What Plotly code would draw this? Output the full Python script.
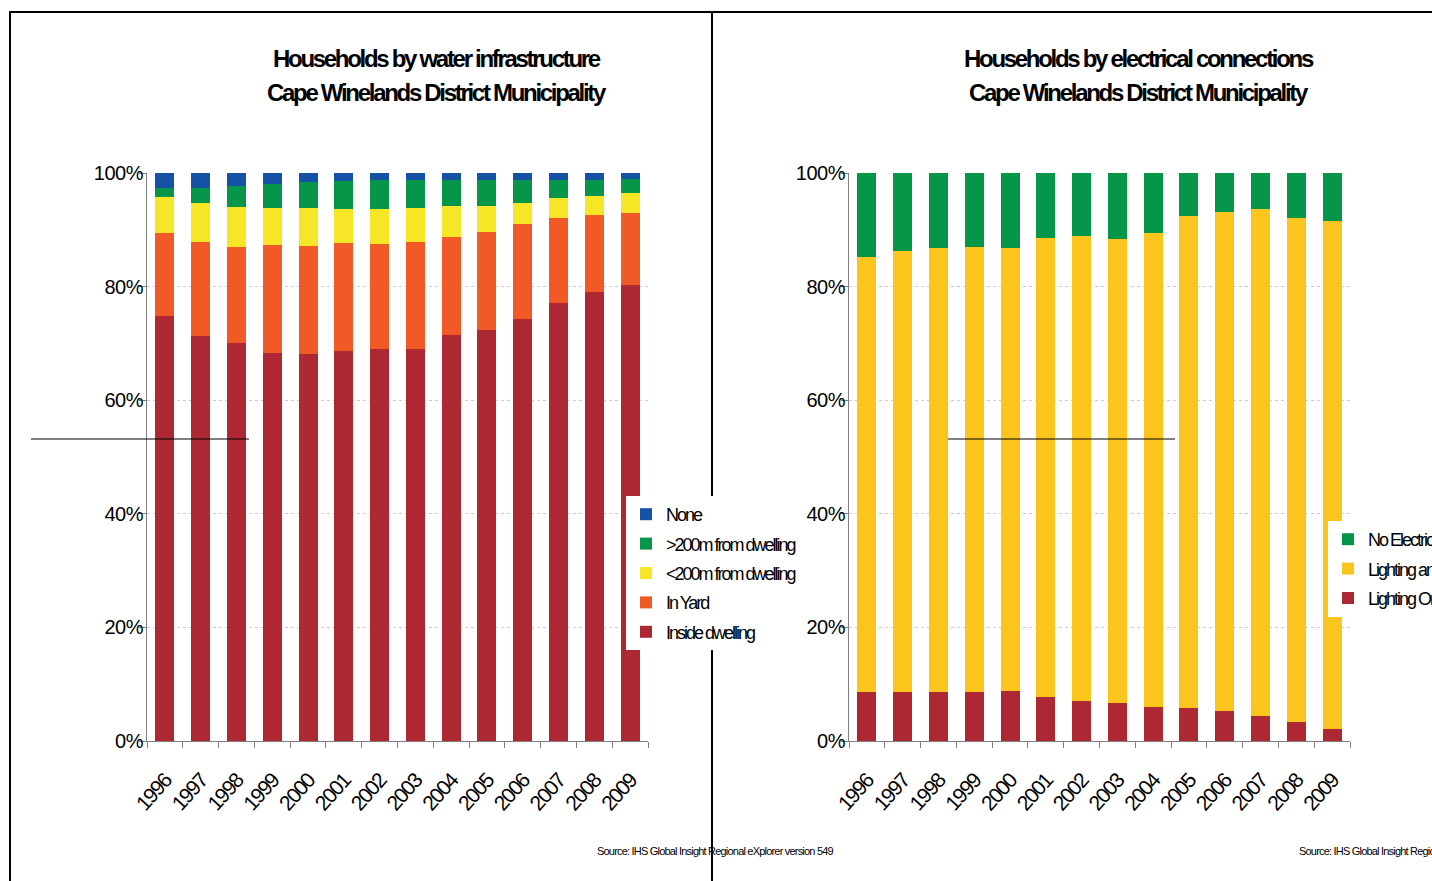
import plotly.graph_objects as go

W, H = 1432, 881

years = ["1996", "1997", "1998", "1999", "2000", "2001", "2002",
         "2003", "2004", "2005", "2006", "2007", "2008", "2009"]

# Water infrastructure shares (% of households)
water_inside = [74.8, 71.3, 70.1, 68.3, 68.1, 68.7, 69.0, 69.0, 71.5, 72.4, 74.3, 77.1, 79.0, 80.3]
water_yard = [14.7, 16.6, 16.9, 19.0, 19.0, 19.0, 18.5, 18.9, 17.2, 17.2, 16.7, 15.0, 13.6, 12.7]
water_lt200 = [6.3, 6.8, 7.0, 6.5, 6.7, 5.9, 6.1, 5.9, 5.5, 4.6, 3.7, 3.5, 3.4, 3.5]
water_gt200 = [1.6, 2.7, 3.7, 4.3, 4.6, 5.0, 5.2, 5.0, 4.6, 4.6, 4.1, 3.2, 2.8, 2.5]
water_none = [2.6, 2.6, 2.3, 1.9, 1.6, 1.4, 1.2, 1.2, 1.2, 1.2, 1.2, 1.2, 1.2, 1.1]

# Electrical connection shares (% of households)
elec_lighting_only = [8.6, 8.6, 8.6, 8.6, 8.8, 7.7, 7.0, 6.7, 6.0, 5.8, 5.3, 4.4, 3.3, 2.2]
elec_lighting_other = [76.6, 77.7, 78.2, 78.4, 78.0, 80.9, 81.9, 81.7, 83.4, 86.6, 87.8, 89.3, 88.8, 89.3]
elec_none = [14.8, 13.7, 13.2, 13.0, 13.2, 11.4, 11.1, 11.6, 10.6, 7.6, 6.9, 6.3, 7.9, 8.5]

y_ticks = [0, 20, 40, 60, 80, 100]
y_tick_labels = ["0%", "20%", "40%", "60%", "80%", "100%"]

FONT = "Liberation Sans, Arial, sans-serif"


def tight(text, spacing):
    return f'<span style="letter-spacing:{spacing}px">{text}</span>'


def px(x):
    return x / W


def py(y):
    return 1 - y / H


fig = go.Figure()

# stacked bottom-up; legend lists the top segment first
water_series = [
    ("Inside dwelling", water_inside, "#ae2833"),
    ("In Yard", water_yard, "#f15a27"),
    ("<200m from dwelling", water_lt200, "#f7e626"),
    (">200m from dwelling", water_gt200, "#05964a"),
    ("None", water_none, "#1552a5"),
]
for i, (name, vals, color) in enumerate(water_series):
    fig.add_trace(go.Bar(
        x=years, y=vals, name=tight(name, -2.0), marker_color=color,
        marker_line_width=0, xaxis="x", yaxis="y", legend="legend",
        legendgroup="w_" + name, legendrank=1000 - i,
        hovertemplate=name + " %{x}: %{y}%<extra></extra>",
    ))

elec_series = [
    ("Lighting Only", elec_lighting_only, "#ae2833"),
    ("Lighting and other", elec_lighting_other, "#fbc51e"),
    ("No Electricity", elec_none, "#06964a"),
]
for i, (name, vals, color) in enumerate(elec_series):
    fig.add_trace(go.Bar(
        x=years, y=vals, name=tight(name, -2.0), marker_color=color,
        marker_line_width=0, xaxis="x2", yaxis="y2", legend="legend2",
        legendgroup="e_" + name, legendrank=1000 - i,
        hovertemplate=name + " %{x}: %{y}%<extra></extra>",
    ))

y_domain = [py(741), py(173)]


def xaxis_cfg(x0, x1, anchor):
    return dict(
        domain=[px(x0), px(x1)], anchor=anchor, type="category", automargin=False,
        tickmode="array", tickvals=years, ticktext=[tight(y, -1.5) for y in years],
        tickangle=-48, tickfont=dict(family=FONT, size=21, color="black"),
        ticklabelstandoff=18,
        showline=True, linecolor="#808080", linewidth=1,
        ticks="outside", tickson="boundaries", ticklen=6, tickcolor="#808080",
        showgrid=False, zeroline=False, fixedrange=True,
    )


def yaxis_cfg(anchor):
    return dict(
        domain=y_domain, anchor=anchor, range=[0, 100], automargin=False,
        tickmode="array", tickvals=y_ticks, ticktext=[tight(t, -0.5) for t in y_tick_labels],
        tickfont=dict(family=FONT, size=20, color="black"),
        ticklabelstandoff=-8,
        showline=True, linecolor="#808080", linewidth=1,
        ticks="outside", ticklen=7, tickcolor="#808080",
        showgrid=True, gridcolor="#cccccc", griddash="dot", gridwidth=1,
        zeroline=False, fixedrange=True,
    )


legend_common = dict(
    xanchor="left", yanchor="top", bgcolor="white", borderwidth=0,
    traceorder="grouped", tracegroupgap=3,
    font=dict(family=FONT, size=18, color="black"),
    itemclick=False, itemdoubleclick=False,
)

annotations = []
for cx, lines in [
    (437, ["Households by water infrastructure", "Cape Winelands District Municipality"]),
    (1139, ["Households by electrical connections", "Cape Winelands District Municipality"]),
]:
    for ly, line in zip([59, 92], lines):
        annotations.append(dict(
            x=px(cx), y=py(ly), xref="paper", yref="paper",
            xanchor="center", yanchor="middle", showarrow=False,
            text="<b>" + tight(line, -2.3) + "</b>",
            font=dict(family=FONT, size=24, color="black"),
        ))

source = "Source: IHS Global Insight Regional eXplorer version 549"
for sx in [595, 1297]:
    annotations.append(dict(
        x=px(sx), y=py(851), xref="paper", yref="paper",
        xanchor="left", yanchor="middle", showarrow=False,
        text=tight(source, -0.8), font=dict(family=FONT, size=11, color="black"),
    ))

line_black = dict(color="black", width=2)
thin_black = dict(color="black", width=1)
shapes = [
    # page frame and divider
    dict(type="line", xref="paper", yref="paper", x0=px(10), x1=px(W), y0=py(12), y1=py(12), line=line_black),
    dict(type="line", xref="paper", yref="paper", x0=px(10), x1=px(10), y0=py(11), y1=py(H), line=line_black),
    dict(type="line", xref="paper", yref="paper", x0=px(712), x1=px(712), y0=py(11), y1=py(H), line=line_black),
    # stray rules across the plots
    dict(type="line", xref="paper", yref="paper", x0=px(31), x1=px(249), y0=py(439), y1=py(439), line=thin_black, layer="above"),
    dict(type="line", xref="paper", yref="paper", x0=px(948), x1=px(1175), y0=py(439), y1=py(439), line=thin_black, layer="above"),
]

fig.update_layout(
    width=W, height=H, autosize=False,
    margin=dict(l=0, r=0, t=0, b=0, autoexpand=False),
    paper_bgcolor="white", plot_bgcolor="white",
    barmode="stack", bargap=0.47,
    font=dict(family=FONT, color="black"),
    xaxis=xaxis_cfg(147, 648, "y"),
    yaxis=yaxis_cfg("x"),
    xaxis2=xaxis_cfg(849, 1350, "y2"),
    yaxis2=yaxis_cfg("x2"),
    legend=dict(x=px(626), y=py(496), **legend_common),
    legend2=dict(x=px(1328), y=py(521), **legend_common),
    annotations=annotations,
    shapes=shapes,
    showlegend=True,
)

fig.write_html("out.html", config={"displayModeBar": False})
